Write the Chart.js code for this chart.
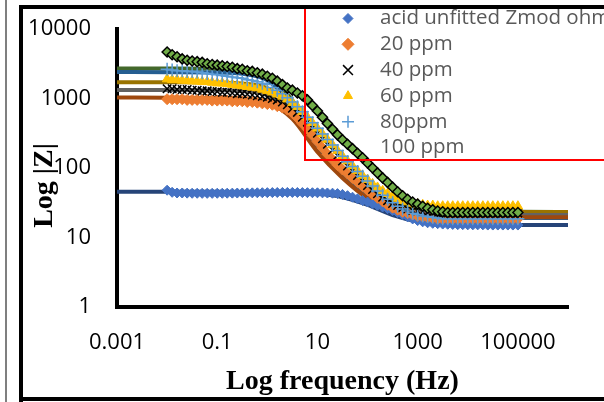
<!DOCTYPE html>
<html>
<head>
    <title>Log |Z| vs Log frequency</title>
    <script src="https://cdnjs.cloudflare.com/ajax/libs/Chart.js/4.4.1/chart.umd.min.js"></script>
    <style>
        body { margin: 0; background: #fff; }
    </style>
</head>
<body>
    <canvas id="myChart" width="604" height="402"></canvas>

    <script>
        // measured frequencies (Hz), 10 per decade
        const freqHz = [0.01, 0.0126, 0.0158, 0.02, 0.0251, 0.0316, 0.0398, 0.0501, 0.0631, 0.0794,
            0.1, 0.126, 0.158, 0.2, 0.251, 0.316, 0.398, 0.501, 0.631, 0.794,
            1, 1.26, 1.58, 2, 2.51, 3.16, 3.98, 5.01, 6.31, 7.94,
            10, 12.6, 15.8, 20, 25.1, 31.6, 39.8, 50.1, 63.1, 79.4,
            100, 126, 158, 200, 251, 316, 398, 501, 631, 794,
            1000, 1260, 1580, 2000, 2510, 3160, 3980, 5010, 6310, 7940,
            10000, 12600, 15800, 20000, 25100, 31600, 39800, 50100, 63100, 79400, 100000];

        const seriesLabels = ['acid unfitted Zmod ohm', '20 ppm', '40 ppm', '60 ppm', '80ppm', '100 ppm'];

        // |Z| (ohm)
        const acidZ = [47.9, 44.7, 43.7, 43.7, 43.5, 43.3, 43.3, 43.2, 43.2, 43.2,
            43.3, 43.3, 43.4, 43.5, 43.6, 43.7, 43.8, 43.9, 44.0, 44.1,
            44.2, 44.3, 44.4, 44.5, 44.5, 44.5, 44.4, 44.3, 44.2, 44.1,
            44.0, 43.9, 43.7, 43.4, 42.8, 41.7, 40.0, 38.0, 36.0, 34.0,
            32.4, 30.5, 29.0, 27.5, 26.0, 24.5, 22.8, 21.2, 19.8, 18.5,
            17.5, 16.8, 16.3, 16.0, 15.8, 15.6, 15.5, 15.4, 15.3, 15.3,
            15.2, 15.2, 15.2, 15.2, 15.1, 15.1, 15.1, 15.1, 15.1, 15.1, 15.1];
        const ppm20Z = [977, 977, 977, 977, 955, 955, 955, 955, 955, 933,
            933, 933, 933, 912, 912, 912, 891, 891, 871, 851,
            832, 813, 776, 741, 692, 617, 525, 437, 363, 295,
            240, 195, 158, 132, 110, 95, 83, 72, 63, 55,
            47.9, 41.7, 37.2, 33.1, 29.5, 26.9, 25.1, 23.4, 22.4, 21.4,
            20.4, 20.0, 19.5, 19.1, 18.6, 18.6, 18.6, 18.6, 18.6, 18.6,
            18.6, 18.6, 18.6, 18.6, 18.6, 18.6, 18.6, 18.6, 18.6, 18.6, 18.6];
        const ppm40Z = [1380, 1380, 1349, 1349, 1349, 1318, 1318, 1288, 1288, 1259,
            1259, 1230, 1230, 1202, 1175, 1175, 1148, 1122, 1096, 1072,
            1047, 1000, 955, 891, 813, 724, 631, 537, 457, 380,
            316, 263, 219, 182, 151, 126, 107, 91, 78, 66,
            56, 49, 42.7, 38.0, 33.9, 30.9, 28.8, 26.9, 25.7, 24.5,
            24.0, 23.4, 22.9, 22.9, 22.4, 22.4, 22.4, 22.4, 22.4, 22.4,
            22.4, 22.4, 22.4, 22.4, 22.4, 22.4, 22.4, 22.4, 22.4, 22.4, 22.4];
        const ppm60Z = [1905, 1862, 1862, 1820, 1820, 1778, 1778, 1738, 1738, 1698,
            1660, 1660, 1622, 1585, 1549, 1514, 1479, 1445, 1413, 1349,
            1288, 1230, 1148, 1072, 977, 871, 759, 646, 537, 447,
            372, 309, 257, 214, 178, 148, 126, 107, 91, 78,
            68, 59, 52.5, 46.8, 42.7, 38.9, 36.3, 33.9, 32.4, 30.9,
            30.2, 29.5, 28.8, 28.8, 28.2, 28.2, 28.2, 28.2, 28.2, 28.2,
            28.2, 28.2, 28.2, 28.2, 28.2, 28.2, 28.2, 28.2, 28.2, 28.2, 28.2];
        const ppm80Z = [2630, 2570, 2512, 2512, 2455, 2455, 2399, 2344, 2291, 2239,
            2188, 2138, 2089, 2042, 1995, 1950, 1862, 1820, 1738, 1660,
            1585, 1445, 1318, 1175, 1023, 891, 759, 646, 537, 447,
            372, 309, 257, 214, 178, 148, 123, 105, 89, 76,
            65, 55, 46.8, 40.7, 35.5, 31.6, 28.2, 25.7, 24.0, 22.4,
            21.4, 20.4, 20.0, 19.5, 19.1, 18.6, 18.6, 18.6, 18.6, 18.6,
            18.6, 18.6, 18.6, 18.6, 18.6, 18.6, 18.6, 18.6, 18.6, 18.6, 18.6];
        const ppm100Z = [4677, 4266, 3981, 3715, 3548, 3467, 3388, 3311, 3162, 3090,
            3020, 2951, 2884, 2818, 2692, 2630, 2512, 2455, 2344, 2239,
            2089, 1950, 1778, 1585, 1413, 1318, 1202, 1096, 955, 794,
            661, 537, 437, 360, 300, 255, 220, 190, 163, 140,
            118, 100, 85, 72, 62, 53, 45.5, 39.8, 35.5, 32.4,
            30.2, 28.2, 26.3, 25.1, 24.0, 23.4, 22.9, 22.9, 22.9, 22.9,
            22.9, 22.9, 22.9, 22.9, 22.9, 22.9, 22.9, 22.9, 22.9, 22.9, 22.9];

        // fitted curves, read at half decades
        const fitFreqHz = [0.001, 0.01, 0.1, 0.316, 1, 3.16, 10, 31.6, 100, 316, 1000, 3160, 10000, 100000, 1000000];
        const acidFit = [45.5, 45.5, 45.4, 45.3, 45.1, 44.5, 42.8, 38, 29.5, 21, 17, 15.6, 15.2, 15.1, 15.1];
        const ppm20Fit = [1030, 1028, 1020, 995, 890, 510, 170, 72, 37, 25.5, 21.5, 20.2, 19.8, 19.6, 19.6];
        const ppm40Fit = [1330, 1328, 1315, 1280, 1120, 600, 185, 76, 40, 27.5, 23, 21.7, 21.3, 21.1, 21.1];
        const ppm60Fit = [1720, 1718, 1700, 1640, 1400, 700, 195, 80, 42, 29.5, 25, 23.8, 23.4, 23.3, 23.3];
        const ppm80Fit = [2400, 2395, 2370, 2260, 1820, 790, 200, 78, 38, 25, 21, 19.7, 19.3, 19.1, 19.1];
        const ppm100Fit = [2700, 2695, 2660, 2540, 2060, 940, 260, 100, 50, 32, 26.5, 24.5, 23.8, 23.4, 23.3];

        const xTickValues = [0.001, 0.1, 10, 1000, 100000];
        const xTickLabels = ['0.001', '0.1', '10', '1000', '100000'];
        const yTickValues = [1, 10, 100, 1000, 10000];
        const yTickLabels = ['1', '10', '100', '1000', '10000'];

        function pts(xs, ys) {
            return xs.map((x, i) => ({ x: x, y: ys[i] }));
        }

        function markerSet(label, vals, style, radius, fill, border, bw, order, legendRadius, legendMarker) {
            return {
                label: label,
                data: pts(freqHz, vals),
                showLine: false,
                pointStyle: style,
                pointRadius: radius,
                pointBackgroundColor: fill,
                pointBorderColor: border,
                pointBorderWidth: bw,
                order: order,
                inLegend: true,
                legendRadius: legendRadius,
                legendMarker: legendMarker
            };
        }

        function fitSet(vals, color) {
            return {
                label: 'fit',
                data: pts(fitFreqHz, vals),
                showLine: true,
                borderColor: color,
                borderWidth: 4,
                pointRadius: 0,
                fill: false,
                cubicInterpolationMode: 'monotone',
                order: 10
            };
        }

        const datasets = [
            markerSet(seriesLabels[0], acidZ, 'rectRot', 5, '#4472C4', '#4472C4', 1, 5, 5, true),
            markerSet(seriesLabels[1], ppm20Z, 'rectRot', 5.5, '#ED7D31', '#ED7D31', 1, 4, 6, true),
            markerSet(seriesLabels[2], ppm40Z, 'crossRot', 6, '#000000', '#000000', 1.5, 3, 7, true),
            markerSet(seriesLabels[3], ppm60Z, 'triangle', 5.5, '#FFC000', '#FFC000', 1, 2, 5.2, true),
            markerSet(seriesLabels[4], ppm80Z, 'cross', 6.5, '#5B9BD5', '#5B9BD5', 1.5, 1, 6, true),
            markerSet(seriesLabels[5], ppm100Z, 'rectRot', 5, '#70AD47', '#000000', 1.5, 0, 5, false),
            fitSet(acidFit, '#264478'),
            fitSet(ppm20Fit, '#9E480E'),
            fitSet(ppm40Fit, '#636363'),
            fitSet(ppm60Fit, '#997300'),
            fitSet(ppm80Fit, '#255E91'),
            fitSet(ppm100Fit, '#43682B')
        ];

        // white page + outer frame lines
        const pageFrame = {
            id: 'pageFrame',
            beforeDraw(chart) {
                const ctx = chart.ctx;
                ctx.save();
                ctx.fillStyle = '#fff';
                ctx.fillRect(0, 0, chart.width, chart.height);
                ctx.restore();
            },
            afterDraw(chart) {
                const ctx = chart.ctx;
                ctx.save();
                ctx.strokeStyle = '#555';
                ctx.lineWidth = 1.5;
                ctx.beginPath();
                ctx.moveTo(6, 0); ctx.lineTo(6, 402);
                ctx.stroke();
                ctx.strokeStyle = '#000';
                ctx.lineWidth = 4;
                ctx.beginPath();
                ctx.moveTo(21, 5); ctx.lineTo(21, 402);
                ctx.moveTo(19, 7); ctx.lineTo(604, 7);
                ctx.moveTo(19, 399); ctx.lineTo(604, 399);
                ctx.stroke();
                ctx.restore();
            }
        };

        // red-framed legend over the top right
        const legendBox = {
            id: 'legendBox',
            afterDatasetsDraw(chart) {
                const ctx = chart.ctx;
                ctx.save();
                ctx.strokeStyle = '#FF0000';
                ctx.lineWidth = 2;
                ctx.strokeRect(305, 8, 330, 152);
                ctx.font = '20.5px "Open Sans"';
                ctx.textBaseline = 'middle';
                let row = 0;
                chart.data.datasets.forEach(ds => {
                    if (!ds.inLegend) return;
                    const y = 18.5 + row * 25.8;
                    if (ds.legendMarker) {
                        ctx.fillStyle = ds.pointBackgroundColor;
                        ctx.strokeStyle = ds.pointBorderColor;
                        ctx.lineWidth = ds.pointBorderWidth;
                        Chart.helpers.drawPoint(ctx, {
                            pointStyle: ds.pointStyle,
                            radius: ds.legendRadius,
                            rotation: 0,
                            borderWidth: ds.pointBorderWidth
                        }, 348, y);
                    }
                    ctx.fillStyle = '#595959';
                    ctx.fillText(ds.label, 380, y);
                    row++;
                });
                ctx.restore();
            }
        };

        const ctx = document.getElementById('myChart').getContext('2d');
        new Chart(ctx, {
            type: 'scatter',
            data: { datasets: datasets },
            options: {
                responsive: false,
                animation: false,
                layout: { padding: { left: 0, top: 29, right: 36, bottom: 0 } },
                plugins: {
                    legend: { display: false },
                    tooltip: { enabled: false }
                },
                scales: {
                    x: {
                        type: 'logarithmic',
                        min: 0.001,
                        max: 1000000,
                        grid: { display: false, drawTicks: false },
                        border: { color: '#000', width: 4 },
                        afterBuildTicks: s => { s.ticks = xTickValues.map(v => ({ value: v })); },
                        afterFit: s => {
                            s.height = 95;
                            s.paddingLeft = 0;
                            s.paddingRight = 0;
                        },
                        ticks: {
                            autoSkip: false,
                            maxRotation: 0,
                            padding: 23,
                            color: '#000',
                            font: { family: '"Open Sans"', size: 22 },
                            callback: (v, i) => xTickLabels[i]
                        },
                        title: {
                            display: true,
                            text: 'Log frequency (Hz)',
                            color: '#000',
                            font: { family: '"Liberation Serif"', size: 28, weight: 'bold' },
                            padding: { top: 0, bottom: 3 }
                        }
                    },
                    y: {
                        type: 'logarithmic',
                        min: 1,
                        max: 10000,
                        grid: { display: false, drawTicks: false },
                        border: { color: '#000', width: 4 },
                        afterBuildTicks: s => { s.ticks = yTickValues.map(v => ({ value: v })); },
                        afterFit: s => {
                            s.width = 117;
                            s.paddingTop = 0;
                            s.paddingBottom = 0;
                        },
                        ticks: {
                            autoSkip: false,
                            padding: 26,
                            color: '#000',
                            font: { family: '"Open Sans"', size: 22 },
                            callback: (v, i) => yTickLabels[i]
                        },
                        title: {
                            display: true,
                            text: 'Log |Z|     ',
                            color: '#000',
                            font: { family: '"Liberation Serif"', size: 28, weight: 'bold' },
                            padding: { top: 28, bottom: 0 }
                        }
                    }
                }
            },
            plugins: [pageFrame, legendBox]
        });
    </script>
</body>
</html>
